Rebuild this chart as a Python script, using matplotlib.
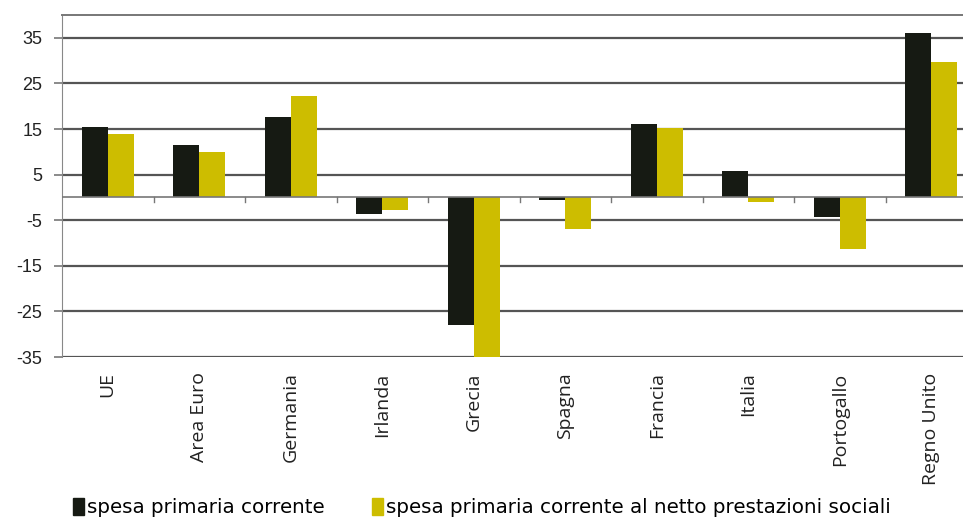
import matplotlib
matplotlib.use("Agg")
import matplotlib.pyplot as plt
import numpy as np
from matplotlib.patches import Patch

categories = ["UE", "Area Euro", "Germania", "Irlanda", "Grecia", "Spagna",
              "Francia", "Italia", "Portogallo", "Regno Unito"]
spesa_corrente = [15.5, 11.5, 17.6, -3.6, -28.0, -0.5, 16.1, 5.8, -4.3, 36.0]
spesa_netto = [13.9, 9.9, 22.3, -2.8, -36.0, -6.9, 15.2, -1.0, -11.4, 29.8]
yticks = [35, 25, 15, 5, -5, -15, -25, -35]
series_names = ["spesa primaria corrente",
                "spesa primaria corrente al netto prestazioni sociali"]

c_black = "#161a13"
c_yellow = "#cdbd00"
grid_c = "#555555"

fig = plt.figure(figsize=(9.63, 5.17), dpi=100)
left = 62 / 963
right = 977 / 963
bottom = (517 - 357) / 517
top = (517 - 15) / 517
ax = fig.add_axes([left, bottom, right - left, top - bottom])

x = np.arange(len(categories))
w = 0.285
ax.bar(x - w / 2, spesa_corrente, w, color=c_black, zorder=3)
ax.bar(x + w / 2, spesa_netto, w, color=c_yellow, zorder=3)

ax.set_xlim(-0.5, len(categories) - 0.5)
ax.set_ylim(-35, 40)
ax.set_yticks(yticks)
ax.set_yticklabels([str(v) for v in yticks], fontsize=13, family="Liberation Sans", color="#222222")
for v in yticks:
    ax.axhline(v, color=grid_c, lw=1.6, zorder=1)
ax.axhline(0, color="#777777", lw=1.2, zorder=4)
# category boundary tick marks on the zero line
for b in np.arange(0.5, len(categories) - 0.5, 1.0):
    ax.plot([b, b], [0, -1.1], color="#777777", lw=1.0, zorder=4)

ax.tick_params(axis="y", length=6, width=1.2, color="#777777", pad=8)
ax.set_xticks(x)
ax.set_xticklabels(categories, rotation=90, fontsize=14, family="Open Sans", color="#222222")
ax.tick_params(axis="x", length=0, pad=11)

for s in ["right", "bottom"]:
    ax.spines[s].set_visible(False)
ax.spines["left"].set_color("#888888")
ax.spines["top"].set_color("#777777")
ax.spines["top"].set_linewidth(1.4)

handles = [Patch(color=c_black), Patch(color=c_yellow)]
leg = fig.legend(handles, series_names, loc="lower left", bbox_to_anchor=(0.057, -0.035),
                 ncol=2, frameon=False, handlelength=0.55, handleheight=0.95, handletextpad=0.15,
                 columnspacing=2.4, prop={"family": ["Liberation Sans Narrow", "DejaVu Sans"], "size": 14.3})

fig.savefig("out.png", dpi=100)
